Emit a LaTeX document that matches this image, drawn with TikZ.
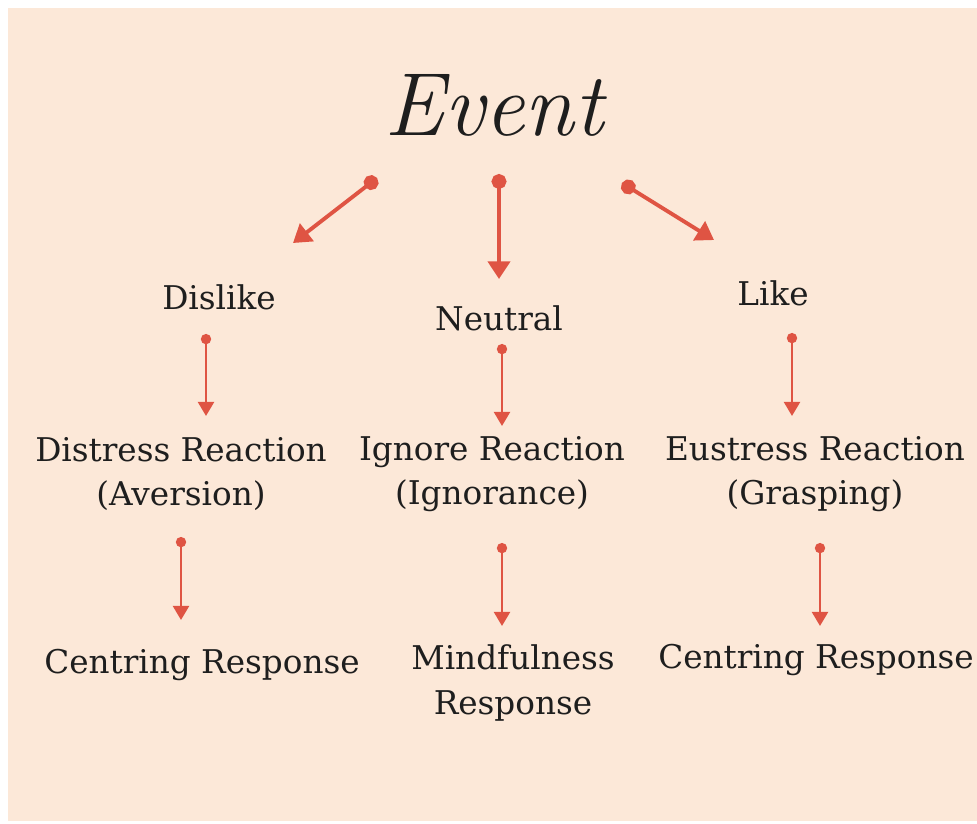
\documentclass[tikz,border=0pt]{standalone}
\usepackage{fontspec}
\usetikzlibrary{arrows.meta}
\newfontfamily\labelfont{DejaVu Serif}
\definecolor{peach}{HTML}{FCE8D8}
\definecolor{arrowred}{HTML}{DF5443}
\definecolor{ink}{HTML}{1E1E1E}

\begin{document}
\begin{tikzpicture}[x=0.02cm,y=-0.02cm,auto,semithick,
                    bigarrow/.style={draw=arrowred,line width=2.2pt,
                      {Circle[length=8.5pt,width=8.5pt]}-{Triangle[length=10pt,width=12.5pt]}},
                    smallarrow/.style={draw=arrowred,line width=1.6pt,
                      {Circle[length=5.8pt,width=5.8pt]}-{Triangle[length=8pt,width=9pt]}}]
    \tikzset{label/.style={font=\labelfont\fontsize{18.6}{25.5}\selectfont,align=center,
                           text=ink,inner sep=0pt}}
    \fill[white] (0,0) rectangle (977,823);
    \fill[peach] (8,8) rectangle (977,821);
    % titles
    \node[font=\fontsize{51}{54}\selectfont\itshape,text=ink,inner sep=0pt] (event) at (494,105) {Event};
    \node[label] (dislike) at (219,297) {Dislike};
    \node[label] (neutral) at (499,318) {Neutral};
    \node[label] (like) at (773,293) {Like};
    \node[label] (distress) at (181,474) {Distress Reaction\\(Aversion)};
    \node[label] (ignore) at (492,474) {Ignore Reaction\\(Ignorance)};
    \node[label] (eustress) at (815,474) {Eustress Reaction\\(Grasping)};
    \node[label] (centreL) at (202,665) {Centring Response};
    \node[label] (mindful) at (513,683) {Mindfulness\\Response};
    \node[label] (centreR) at (816,660) {Centring Response};
    % arrow ends
    \coordinate (e1) at (377,178);  \coordinate (d1) at (293,243);
    \coordinate (e2) at (499,174);  \coordinate (n1) at (499,279);
    \coordinate (e3) at (622,183);  \coordinate (l1) at (714,240);
    \coordinate (d2) at (206,334);  \coordinate (d3) at (206,416);
    \coordinate (n2) at (502,344);  \coordinate (n3) at (502,426);
    \coordinate (l2) at (792,333);  \coordinate (l3) at (792,416);
    \coordinate (d4) at (181,537);  \coordinate (d5) at (181,620);
    \coordinate (n4) at (502,543);  \coordinate (n5) at (502,626);
    \coordinate (l4) at (820,543);  \coordinate (l5) at (820,626);
    \path
    (e1) edge[bigarrow] (d1)
    (e2) edge[bigarrow] (n1)
    (e3) edge[bigarrow] (l1)
    (d2) edge[smallarrow] (d3)
    (n2) edge[smallarrow] (n3)
    (l2) edge[smallarrow] (l3)
    (d4) edge[smallarrow] (d5)
    (n4) edge[smallarrow] (n5)
    (l4) edge[smallarrow] (l5);
\end{tikzpicture}
\end{document}
